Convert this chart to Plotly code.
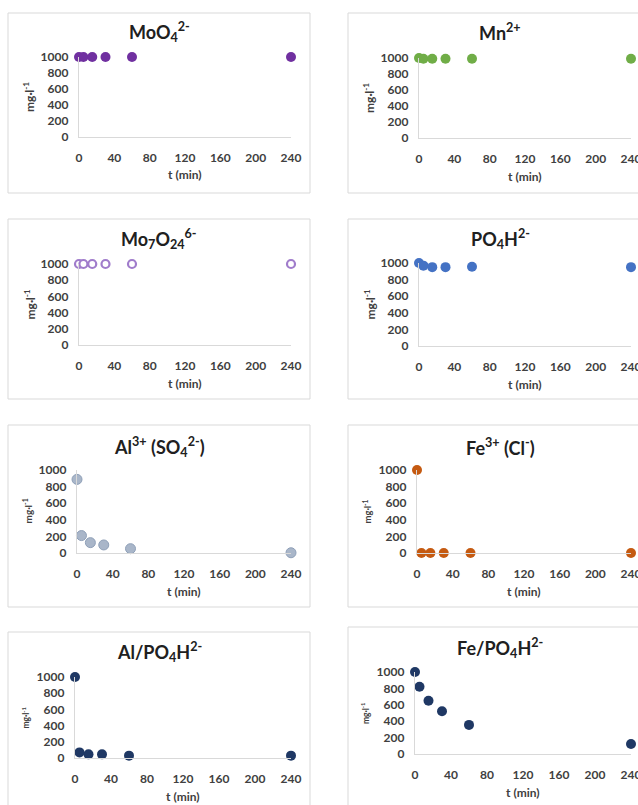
import plotly.graph_objects as go

# ---------------- data ----------------
times = [0, 5, 15, 30, 60, 240]
moo4 = [1000, 1000, 1000, 1000, 1000, 1000]
mn = [1000, 990, 990, 990, 990, 990]
mo7o24 = [1000, 1000, 1000, 1000, 1000, 1000]
po4h = [1000, 968, 950, 950, 955, 950]
al_so4 = [887, 210, 125, 97, 52, 3]
fe_cl = [1000, 0, 0, 0, 0, 0]
al_po4h = [1000, 69, 45, 45, 29, 29]
fe_po4h = [1000, 820, 649, 522, 355, 122]

x_ticks = [0, 40, 80, 120, 160, 200, 240]
y_ticks = [0, 200, 400, 600, 800, 1000]

titles = [
    "MoO<sub>4</sub><sup>2-</sup>",
    "Mn<sup>2+</sup>",
    "Mo<sub>7</sub>O<sub>24</sub><sup>6-</sup>",
    "PO<sub>4</sub>H<sup>2-</sup>",
    "Al<sup>3+</sup> (SO<sub>4</sub><sup>2-</sup>)",
    "Fe<sup>3+</sup> (Cl<sup>-</sup>)",
    "Al/PO<sub>4</sub>H<sup>2-</sup>",
    "Fe/PO<sub>4</sub>H<sup>2-</sup>",
]
series = [moo4, mn, mo7o24, po4h, al_so4, fe_cl, al_po4h, fe_po4h]
colors = ["#7030A0", "#70AD47", "#A07CCB", "#4472C4", "#A9B6C9", "#C55A11", "#1F3864", "#1F3864"]
hollow = [False, False, True, False, False, False, False, False]

# ---------------- layout geometry (pixels) ----------------
W, H = 638, 805
# (x0, x240, y1000, y0, box_left, box_right, box_top, box_bottom, title_y, ytitle_size)
geo = [
    (79, 291, 57, 137, 8, 310, 13, 193, 32, 12),
    (419, 631, 58, 138, 348, 652, 13, 193, 32, 12),
    (79, 291, 264, 345, 8, 310, 219, 399, 239, 12),
    (419, 631, 263, 346, 348, 652, 219, 399, 239, 12),
    (77, 291, 470, 553, 8, 310, 425, 607, 447, 10),
    (417, 631, 470, 553, 348, 652, 425, 607, 447, 9.5),
    (75, 291, 677, 758, 8, 310, 632, 815, 652, 8.5),
    (415, 631, 672, 754, 348, 652, 627, 815, 648, 8.5),
]

FONT = "Lato"
TXT = "#404040"

fig = go.Figure()
shapes = []
annotations = []
layout_axes = {}

for i, (g, ys, col, hol, ttl) in enumerate(zip(geo, series, colors, hollow, titles)):
    x0, x240, y1000, y0, bl, br, bt, bb, ty, yts = g
    n = i + 1
    xa = "x" if n == 1 else f"x{n}"
    ya = "y" if n == 1 else f"y{n}"
    if hol:
        marker = dict(size=8, color="white", line=dict(color=col, width=2.2))
    else:
        lc = "#8FA0B8" if i == 4 else col
        marker = dict(size=10, color=col, line=dict(color=lc, width=1 if i == 4 else 0))
    fig.add_trace(go.Scatter(x=times, y=ys, mode="markers", marker=marker,
                             xaxis=xa, yaxis=ya, cliponaxis=False, showlegend=False))
    xkey = "xaxis" if n == 1 else f"xaxis{n}"
    ykey = "yaxis" if n == 1 else f"yaxis{n}"
    layout_axes[xkey] = dict(
        domain=[x0 / W, x240 / W], range=[0, 240], anchor=ya, automargin=False,
        tickvals=x_ticks, ticks="outside", ticklen=9, tickcolor="rgba(0,0,0,0)",
        ticklabeloverflow="allow",
        showline=True, linecolor="#D9D9D9", linewidth=1.3, showgrid=False, zeroline=False,
        tickfont=dict(family=FONT, size=12, color=TXT, weight="bold"),
    )
    layout_axes[ykey] = dict(
        domain=[1 - y0 / H, 1 - y1000 / H], range=[0, 1000], anchor=xa, automargin=False,
        tickvals=y_ticks, ticks="outside", ticklen=7, tickcolor="rgba(0,0,0,0)",
        ticklabeloverflow="allow",
        showline=True, linecolor="#D9D9D9", linewidth=1.3, showgrid=False, zeroline=False,
        tickfont=dict(family=FONT, size=12, color=TXT, weight="bold"),
    )
    shapes.append(dict(type="rect", xref="paper", yref="paper",
                       x0=bl / W, x1=br / W, y0=1 - bb / H, y1=1 - bt / H,
                       line=dict(color="#D9D9D9", width=1), fillcolor="rgba(0,0,0,0)", layer="below"))
    # title
    annotations.append(dict(text=ttl, xref="paper", yref="paper",
                            x=(bl + br) / 2 / W, y=1 - ty / H, xanchor="center", yanchor="middle",
                            showarrow=False, font=dict(family=FONT, size=18, color="#202020", weight="bold")))
    # x title
    annotations.append(dict(text="t (min)", xref="paper", yref="paper",
                            x=(x0 + x240) / 2 / W, y=1 - (y0 + 38) / H, xanchor="center", yanchor="middle",
                            showarrow=False, font=dict(family=FONT, size=12, color=TXT, weight="bold")))
    # y title
    annotations.append(dict(text="mg·l<sup>-1</sup>", xref="paper", yref="paper",
                            x=(x0 - 50) / W, y=1 - (y0 + y1000) / 2 / H, xanchor="center", yanchor="middle",
                            textangle=-90, showarrow=False,
                            font=dict(family=FONT, size=yts, color=TXT, weight="bold")))

fig.update_layout(
    width=W, height=H, margin=dict(l=0, r=0, t=0, b=0, autoexpand=False),
    paper_bgcolor="white", plot_bgcolor="white",
    shapes=shapes, annotations=annotations, **layout_axes,
)
fig.write_html("out.html", config={"displayModeBar": False},
               post_script="document.body.style.margin='0';document.body.style.overflow='hidden';")
